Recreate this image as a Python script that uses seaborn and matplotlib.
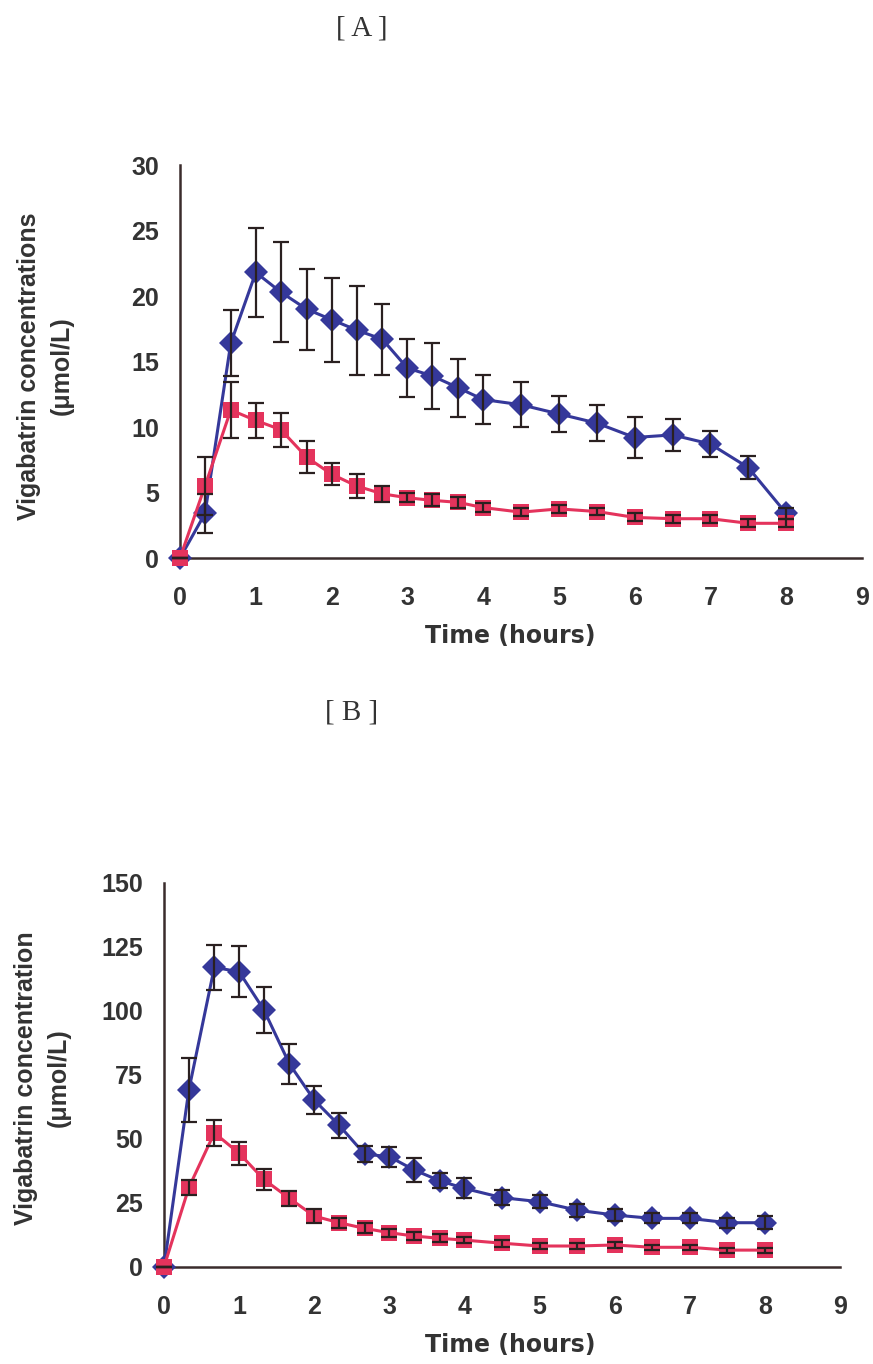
import numpy as np
import pandas as pd
import matplotlib
matplotlib.use('Agg')
import matplotlib.pyplot as plt
import seaborn as sns

time_h = [0, 0.33, 0.67, 1, 1.33, 1.67, 2, 2.33, 2.67, 3, 3.33, 3.67, 4, 4.5, 5, 5.5, 6, 6.5, 7, 7.5, 8]

# panel A
a_blue = [0, 3.4, 16.4, 21.8, 20.3, 19.0, 18.2, 17.4, 16.7, 14.5, 13.9, 13.0, 12.1, 11.7, 11.0, 10.3, 9.2, 9.4, 8.7, 6.9, 3.4]
a_blue_err = [0, 1.5, 2.5, 3.4, 3.8, 3.1, 3.2, 3.4, 2.7, 2.2, 2.5, 2.2, 1.85, 1.7, 1.4, 1.4, 1.6, 1.2, 1.0, 0.9, 0.4]
a_red = [0, 5.5, 11.3, 10.5, 9.8, 7.7, 6.4, 5.5, 4.9, 4.6, 4.4, 4.25, 3.85, 3.5, 3.75, 3.55, 3.1, 3.0, 3.0, 2.65, 2.65]
a_red_err = [0, 2.2, 2.1, 1.3, 1.3, 1.2, 0.85, 0.9, 0.6, 0.35, 0.45, 0.4, 0.35, 0.3, 0.3, 0.3, 0.3, 0.3, 0.3, 0.3, 0.3]

# panel B
b_blue = [0, 69.0, 117.0, 115.2, 100.3, 79.2, 65.1, 55.3, 44.0, 43.0, 37.8, 33.6, 30.6, 27.0, 25.4, 22.1, 20.2, 18.9, 18.9, 17.2, 17.2]
b_blue_err = [0, 12.5, 8.7, 10.0, 8.8, 7.8, 5.5, 4.9, 3.0, 3.9, 4.5, 3.0, 3.9, 2.8, 2.5, 2.5, 2.5, 2.0, 2.0, 2.0, 2.5]
b_red = [0, 30.9, 52.3, 44.3, 34.1, 26.7, 19.8, 17.2, 15.0, 13.3, 12.0, 11.1, 10.4, 9.2, 8.1, 8.1, 8.5, 7.6, 7.6, 6.5, 6.5]
b_red_err = [0, 3.0, 5.0, 4.4, 4.0, 3.0, 2.7, 2.0, 2.0, 1.5, 1.5, 1.5, 1.3, 1.3, 1.0, 1.0, 1.0, 1.0, 1.0, 1.0, 1.0]

BLUE = '#35389a'
RED = '#e4335c'
AXC = '#3a2c2c'
TXT = '#333333'

sns.set_style('white')
plt.rcParams['font.family'] = ['Liberation Sans', 'DejaVu Sans']

fig = plt.figure(figsize=(8.73, 13.64), dpi=100)
axA = fig.add_axes([0.2062, 0.5909, 0.7812, 0.2881])
axB = fig.add_axes([0.1879, 0.0713, 0.7743, 0.2815])


def panel(ax, blue, blue_err, red, red_err, ymax, ystep):
    df = pd.DataFrame({'Time': time_h * 2,
                       'conc': blue + red,
                       'grp': ['blue'] * len(time_h) + ['red'] * len(time_h)})
    sns.lineplot(data=df, x='Time', y='conc', hue='grp', style='grp',
                 palette={'blue': BLUE, 'red': RED},
                 markers={'blue': 'D', 'red': 's'}, dashes=False,
                 markeredgewidth=0, linewidth=2.2,
                 legend=False, ax=ax, clip_on=False, zorder=3)
    for ln, ms in zip(ax.lines, (12.5, 11)):
        ln.set_markersize(ms)
    for m, e in ((blue, blue_err), (red, red_err)):
        ax.errorbar(time_h, m, yerr=e, fmt='none', ecolor='#2a2020',
                    elinewidth=1.6, capsize=6, capthick=1.6,
                    zorder=4, clip_on=False)
    ax.set_xlim(0, 9)
    ax.set_ylim(0, ymax)
    ax.set_xticks(range(0, 10))
    ax.set_yticks(np.arange(0, ymax + 1, ystep))
    sns.despine(ax=ax)
    for s in ('left', 'bottom'):
        ax.spines[s].set_color(AXC)
        ax.spines[s].set_linewidth(1.8)
    ax.tick_params(direction='in', length=6, width=1.5, color=AXC,
                   labelsize=18, labelcolor=TXT)
    ax.tick_params(axis='y', pad=15)
    ax.tick_params(axis='x', pad=20)
    for t in ax.get_xticklabels() + ax.get_yticklabels():
        t.set_fontweight('bold')
    ax.set_xlabel('')
    ax.set_ylabel('')
    ax.set_facecolor('white')


panel(axA, a_blue, a_blue_err, a_red, a_red_err, 30, 5)
panel(axB, b_blue, b_blue_err, b_red, b_red_err, 150, 25)

W, H = 873, 1364
fig.text(362 / W, 1 - 28 / H, '[ A ]', family='Liberation Serif', fontsize=21,
         color=TXT, ha='center', va='center')
fig.text(352 / W, 1 - 712 / H, '[ B ]', family='Liberation Serif', fontsize=21,
         color=TXT, ha='center', va='center')

fig.text(45 / W, 1 - 366 / H, 'Vigabatrin concentrations\n(\u03bcmol/L)',
         rotation=90, ha='center', va='center', multialignment='center',
         fontsize=18, fontweight='bold', color=TXT, linespacing=1.45)
fig.text(42 / W, 1 - 1078 / H, 'Vigabatrin concentration\n(\u03bcmol/L)',
         rotation=90, ha='center', va='center', multialignment='center',
         fontsize=18, fontweight='bold', color=TXT, linespacing=1.45)

for yy in (636, 1345):
    fig.text(510 / W, 1 - yy / H, 'Time (hours)', ha='center', va='center',
             family='DejaVu Sans', fontsize=17, fontweight='bold', color=TXT)

fig.savefig('out.png', dpi=100, facecolor='white')
